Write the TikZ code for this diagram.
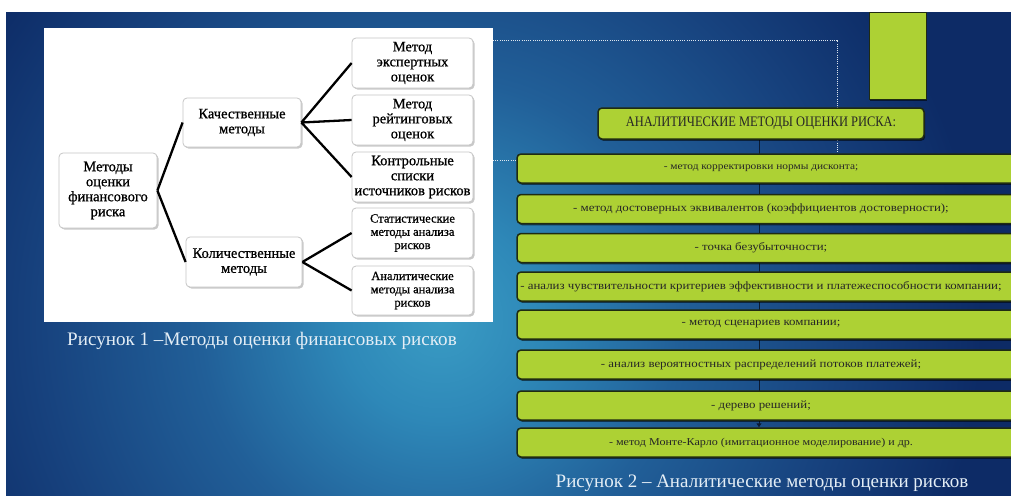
\documentclass[tikz,border=0pt]{standalone}
\usepackage{fontspec}
\setmainfont{Liberation Serif}
\newfontfamily\tnr{Liberation Serif}
\newfontfamily\tnrb[FakeBold=0.8]{Liberation Serif}
\newfontfamily\hdrfont[FakeStretch=0.86]{Liberation Serif}
\newfontfamily\listfont[FakeStretch=1.15]{Liberation Serif}
\usetikzlibrary{shadows,backgrounds,arrows.meta}

\definecolor{bgnavy}{HTML}{0D2B66}
\definecolor{bgteal}{HTML}{3A9CC4}
\definecolor{bglight}{HTML}{2E88B8}
\definecolor{bgmid}{HTML}{215F98}
\definecolor{bgdeep}{HTML}{17427E}
\definecolor{lime}{HTML}{ADD134}
\definecolor{limeborder}{HTML}{1F2B12}
\definecolor{capcol}{HTML}{E4EEF6}
\definecolor{conncol}{HTML}{0A1A33}
\definecolor{dotcol}{HTML}{DDE6EE}

\pgfdeclareradialshading{bgshade}{\pgfpoint{0bp}{0bp}}{color(0bp)=(bgteal); color(100bp)=(bglight); color(240bp)=(bgmid); color(400bp)=(bgdeep); color(540bp)=(bgnavy); color(800bp)=(bgnavy)}

\pgfdeclarelayer{bglayer}
\pgfsetlayers{bglayer,background,main}

\tikzset{
  lbox/.style={draw=gray!45, fill=white, rounded corners=4pt, line width=0.8pt,
    align=center, inner sep=0pt, font=\tnrb\fontsize{14.5}{15}\selectfont,
    drop shadow={shadow xshift=1.5pt, shadow yshift=-1.5pt, fill=gray!70, opacity=0.6}},
  lboxs/.style={lbox, font=\tnrb\fontsize{12.5}{13.3}\selectfont},
  lconn/.style={line width=2.3pt, black},
  limebox/.style={draw=limeborder, fill=lime, line width=1.5pt, rounded corners=4pt,
    inner sep=0pt, text=black!85,
    drop shadow={shadow xshift=1.2pt, shadow yshift=-1.8pt, fill=black, opacity=0.55}},
  listbox/.style={limebox, minimum width=503pt, minimum height=29pt,
    font=\listfont\fontsize{11.2}{13}\selectfont},
  rconn/.style={line width=1pt, conncol},
  dotline/.style={dotcol, line width=0.9pt, dash pattern=on 1pt off 1.2pt},
  caption/.style={text=capcol, font=\tnr\fontsize{19.1}{21}\selectfont, inner sep=0pt},
}

\begin{document}
\begin{tikzpicture}[x=1pt, y=-1pt]
\useasboundingbox (0,0) rectangle (1011,498);
\begin{pgfonlayer}{bglayer}
  \fill[white] (0,0) rectangle (1011,498);
  \begin{scope}
    \clip (6,12) rectangle (1011,495);
    \fill[bgnavy] (6,12) rectangle (1011,495);
    \pgftext[at={\pgfpointxy{440}{320}}]{\pgfuseshading{bgshade}};
  \end{scope}
  \fill[white] (44,28) rectangle (493,322);
\end{pgfonlayer}

% left diagram
\node[lbox, minimum width=98pt, minimum height=75pt] (root) at (108,190.5) {Методы\\оценки\\финансового\\риска};
\node[lbox, minimum width=118pt, minimum height=49pt] (kach) at (242,122.5) {Качественные\\методы};
\node[lbox, minimum width=116pt, minimum height=50pt] (kol) at (244,262) {Количественные\\методы};
\node[lbox, minimum width=121pt, minimum height=50pt] (r1) at (412.5,63) {Метод\\экспертных\\оценок};
\node[lbox, minimum width=121pt, minimum height=50pt] (r2) at (412.5,120) {Метод\\рейтинговых\\оценок};
\node[lbox, minimum width=121pt, minimum height=50pt] (r3) at (412.5,177) {Контрольные\\списки\\источников рисков};
\node[lboxs, minimum width=121pt, minimum height=50pt] (r4) at (412.5,233) {Статистические\\методы анализа\\рисков};
\node[lboxs, minimum width=121pt, minimum height=49pt] (r5) at (412.5,290.5) {Аналитические\\методы анализа\\рисков};

\draw[lconn] (root.east) -- (kach.west);
\draw[lconn] (root.east) -- (kol.west);
\draw[lconn] (kach.east) -- (r1.west);
\draw[lconn] (kach.east) -- (r2.west);
\draw[lconn] (kach.east) -- (r3.west);
\draw[lconn] (kol.east) -- (r4.west);
\draw[lconn] (kol.east) -- (r5.west);

\node[caption] (cap1) at (262,341) {Рисунок 1 –Методы оценки финансовых  рисков};

% right diagram
\node[limebox, line width=1pt, rounded corners=0pt, minimum width=57pt, minimum height=87pt] (gr) at (897.5,55.5) {};
\node[limebox, minimum width=326pt, minimum height=31pt, font=\hdrfont\fontsize{14.5}{16}\selectfont] (hdr) at (761,123.5) {АНАЛИТИЧЕСКИЕ МЕТОДЫ ОЦЕНКИ РИСКА:};

\node[listbox, font=\listfont\fontsize{9.9}{12}\selectfont] (b1) at (768.5,168.5) {\hspace*{-15pt}- метод корректировки нормы дисконта;};
\node[listbox] (b2) at (768.5,209) {\hspace*{-15pt}- метод достоверных эквивалентов (коэффициентов достоверности);};
\node[listbox] (b3) at (768.5,248) {\hspace*{-15pt}- точка безубыточности;};
\node[listbox] (b4) at (768.5,286.5) {\hspace*{-15pt}- анализ чувствительности критериев эффективности и платежеспособности компании;};
\node[listbox] (b5) at (768.5,324.5) {\hspace*{-15pt}- метод сценариев компании;};
\node[listbox] (b6) at (768.5,364.5) {\hspace*{-15pt}- анализ вероятностных распределений потоков платежей;};
\node[listbox] (b7) at (768.5,405.5) {\hspace*{-15pt}- дерево решений;};
\node[listbox, font=\listfont\fontsize{10.5}{12}\selectfont] (b8) at (768.5,442.5) {\hspace*{-15pt}- метод Монте-Карло (имитационное моделирование) и др.};

\coordinate (d0) at (493,40);
\coordinate (d1) at (837,40);
\coordinate (d2) at (493,160);
\coordinate (d3) at (517,160);
\begin{pgfonlayer}{background}
  \draw[rconn, -{Triangle[length=4pt, width=5pt]}] ([xshift=-2pt]hdr.south) -- ([xshift=-2pt]hdr.south |- b8.north);
  \draw[dotline] (d0) -- (d1) -- (d1 |- b1.north);
  \draw[dotline] (d2) -- (d3);
\end{pgfonlayer}

\node[caption, font=\tnr\fontsize{19}{21}\selectfont] (cap2) at (762,483) {Рисунок 2 – Аналитические  методы оценки рисков};
\end{tikzpicture}
\end{document}
